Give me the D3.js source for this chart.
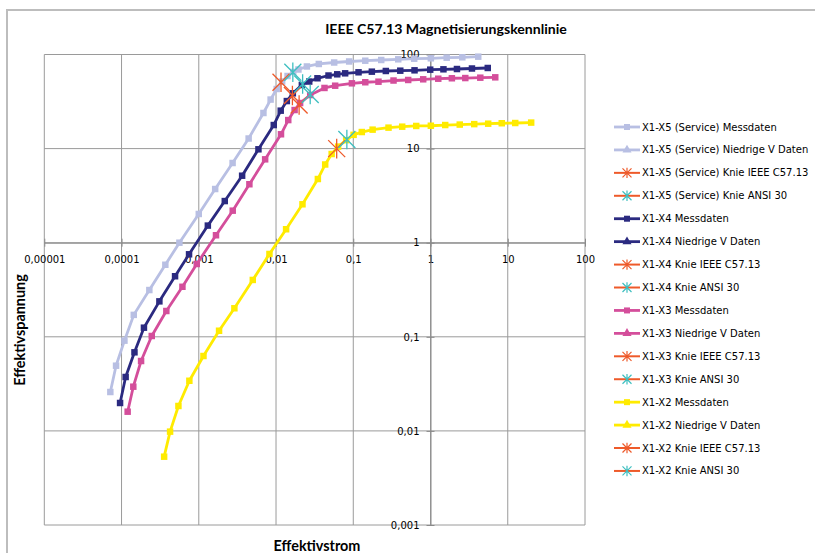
<!DOCTYPE html>
<html><head><meta charset="utf-8">
<script src="https://cdn.jsdelivr.net/npm/d3@7/dist/d3.min.js"></script>
<style>body{margin:0;background:#fff}svg{display:block}</style>
</head><body><div id="chart"></div>
<script>
// ---- Data (current [A], voltage [V]) ----
const x5Current = [7.16e-5,8.49e-5,1.09e-4,1.44e-4,2.29e-4,3.69e-4,5.61e-4,1.00e-3,1.63e-3,2.74e-3,4.42e-3,6.87e-3,8.51e-3,0.0102,0.0120,0.0141,0.0167,0.0195,0.0251,0.0358,0.0566,0.0885,0.143,0.230,0.382,0.615,1.01,1.62,2.58,4.15];
const x5Voltage = [0.0259,0.0493,0.0910,0.171,0.314,0.583,1.00,2.02,3.72,7.03,12.8,23.9,33.2,43.0,51.6,59.1,65.2,69.3,74.6,79.3,82.2,84.3,85.9,87.4,88.9,90.2,91.1,92.5,93.4,94.8];
const x4Current = [9.57e-5,1.13e-4,1.47e-4,1.95e-4,3.09e-4,4.93e-4,7.48e-4,1.31e-3,2.17e-3,3.64e-3,5.92e-3,9.35e-3,0.0115,0.0138,0.0165,0.0216,0.0269,0.0344,0.0478,0.0620,0.0785,0.117,0.174,0.264,0.406,0.621,0.991,1.47,2.20,3.44,5.51];
const x4Voltage = [0.0198,0.0374,0.0684,0.125,0.238,0.440,0.753,1.52,2.77,5.15,9.83,17.8,25.3,32.0,38.7,47.4,51.6,55.9,59.8,61.6,63.1,64.7,65.7,66.8,67.3,67.9,69.0,69.6,70.1,71.0,71.9];
const x3Current = [1.20e-4,1.42e-4,1.79e-4,2.46e-4,3.80e-4,6.14e-4,9.42e-4,1.67e-3,2.75e-3,4.52e-3,7.23e-3,0.0116,0.0144,0.0174,0.0205,0.0277,0.0424,0.0583,0.0960,0.143,0.212,0.332,0.514,0.804,1.26,1.89,2.82,4.41,6.89];
const x3Voltage = [0.0160,0.0295,0.0553,0.102,0.188,0.340,0.594,1.20,2.19,4.18,7.69,14.2,20.1,25.7,30.5,37.1,44.1,46.6,49.4,50.7,51.4,52.9,53.6,54.5,55.3,55.9,56.2,56.7,57.2];
const x2Current = [3.56e-4,4.25e-4,5.45e-4,7.55e-4,1.15e-3,1.83e-3,2.89e-3,5.00e-3,8.22e-3,0.0135,0.0220,0.0348,0.0433,0.0525,0.0637,0.0809,0.101,0.129,0.178,0.286,0.430,0.653,1.01,1.55,2.39,3.68,5.58,8.36,12.5,20.1];
const x2Voltage = [0.00532,0.00982,0.0184,0.0341,0.0625,0.116,0.201,0.402,0.759,1.39,2.56,4.75,6.78,8.76,10.5,12.3,14.0,15.0,15.9,16.7,17.1,17.4,17.5,17.8,18.0,18.2,18.4,18.6,18.7,18.9];
// Low-voltage series (no separate points visible in the chart)
const lowVCurrent = [];
const lowVVoltage = [];
// Knee points [current, voltage]
const kneeIEEE = { X5: [0.0116, 50.7], X4: [0.0163, 36.7], X3: [0.0199, 29.1], X2: [0.0610, 10.0] };
const kneeANSI = { X5: [0.0165, 64.7], X4: [0.0221, 48.6], X3: [0.0277, 37.6], X2: [0.0826, 12.5] };

const xTickValues = [1e-5,1e-4,1e-3,1e-2,1e-1,1,10,100];
const xTickLabels = ["0,00001","0,0001","0,001","0,01","0,1","1","10","100"];
const yTickValues = [1e-3,1e-2,1e-1,1,10,100];
const yTickLabels = ["0,001","0,01","0,1","1","10","100"];

const title = "IEEE C57.13 Magnetisierungskennlinie";
const xTitle = "Effektivstrom";
const yTitle = "Effektivspannung";

const colors = { X5: "#B8BFE3", X4: "#2B2A80", X3: "#D44E9B", X2: "#FFEB00", ieee: "#EE5A2A", ansi: "#3EBFC0", kneeLine: "#EE5A2A" };

const zip = (a, b) => a.map((v, i) => [v, b[i]]);

const series = [
  { name: "X1-X5 (Service) Messdaten", type: "line", marker: "square", color: colors.X5, data: zip(x5Current, x5Voltage) },
  { name: "X1-X5 (Service) Niedrige V Daten", type: "line", marker: "triangle", color: colors.X5, data: zip(lowVCurrent, lowVVoltage) },
  { name: "X1-X5 (Service) Knie IEEE C57.13", type: "knee", color: colors.ieee, data: [kneeIEEE.X5] },
  { name: "X1-X5 (Service) Knie ANSI 30", type: "knee", color: colors.ansi, data: [kneeANSI.X5] },
  { name: "X1-X4 Messdaten", type: "line", marker: "square", color: colors.X4, data: zip(x4Current, x4Voltage) },
  { name: "X1-X4 Niedrige V Daten", type: "line", marker: "triangle", color: colors.X4, data: zip(lowVCurrent, lowVVoltage) },
  { name: "X1-X4 Knie IEEE C57.13", type: "knee", color: colors.ieee, data: [kneeIEEE.X4] },
  { name: "X1-X4 Knie ANSI 30", type: "knee", color: colors.ansi, data: [kneeANSI.X4] },
  { name: "X1-X3 Messdaten", type: "line", marker: "square", color: colors.X3, data: zip(x3Current, x3Voltage) },
  { name: "X1-X3 Niedrige V Daten", type: "line", marker: "triangle", color: colors.X3, data: zip(lowVCurrent, lowVVoltage) },
  { name: "X1-X3 Knie IEEE C57.13", type: "knee", color: colors.ieee, data: [kneeIEEE.X3] },
  { name: "X1-X3 Knie ANSI 30", type: "knee", color: colors.ansi, data: [kneeANSI.X3] },
  { name: "X1-X2 Messdaten", type: "line", marker: "square", color: colors.X2, data: zip(x2Current, x2Voltage) },
  { name: "X1-X2 Niedrige V Daten", type: "line", marker: "triangle", color: colors.X2, data: zip(lowVCurrent, lowVVoltage) },
  { name: "X1-X2 Knie IEEE C57.13", type: "knee", color: colors.ieee, data: [kneeIEEE.X2] },
  { name: "X1-X2 Knie ANSI 30", type: "knee", color: colors.ansi, data: [kneeANSI.X2] }
];

const W = 815, H = 553;
const plot = { left: 44.3, right: 585, top: 54.5, bottom: 525 };
const svg = d3.select("#chart").append("svg").attr("width", W).attr("height", H);

// outer chart frame
svg.append("rect").attr("x", 7).attr("y", 10).attr("width", 900).attr("height", 700)
  .attr("fill", "none").attr("stroke", "#BDBDBD").attr("stroke-width", 2);

const x = d3.scaleLog().domain([1e-5, 100]).range([plot.left, plot.right]);
const y = d3.scaleLog().domain([1e-3, 100]).range([plot.bottom, plot.top]);

// gridlines
const grid = svg.append("g");
grid.selectAll("line.v").data(xTickValues).join("line")
  .attr("x1", d => x(d)).attr("x2", d => x(d)).attr("y1", plot.top).attr("y2", plot.bottom)
  .attr("stroke", "#9A9A9A").attr("stroke-width", 1);
grid.selectAll("line.h").data(yTickValues).join("line")
  .attr("y1", d => y(d)).attr("y2", d => y(d)).attr("x1", plot.left).attr("x2", plot.right)
  .attr("stroke", "#9A9A9A").attr("stroke-width", 1);

// axes crossing at 1
const tickFont = "DejaVu Sans, sans-serif";
const xAxis = d3.axisBottom(x).tickValues(xTickValues).tickFormat((d, i) => xTickLabels[i]).tickSizeInner(4).tickSizeOuter(0);
const gx = svg.append("g").attr("transform", `translate(0,${y(1)})`).call(xAxis);
gx.select(".domain").attr("stroke", "#8A8A8A");
gx.selectAll(".tick line").attr("stroke", "#8A8A8A").attr("y1", -4);
gx.selectAll(".tick text").attr("font-family", tickFont).attr("font-size", 10).attr("fill", "#000").attr("dy", "1.3em");

const yAxis = d3.axisLeft(y).tickValues(yTickValues).tickFormat((d, i) => yTickLabels[i]).tickSizeInner(4).tickSizeOuter(0);
const gy = svg.append("g").attr("transform", `translate(${x(1)},0)`).call(yAxis);
gy.select(".domain").attr("stroke", "#8A8A8A");
gy.selectAll(".tick line").attr("stroke", "#8A8A8A").attr("x1", 4);
gy.selectAll(".tick text").attr("font-family", tickFont).attr("font-size", 10).attr("fill", "#000").attr("x", -11);

// series
const starPath = s => `M${-s},${-s}L${s},${s}M${-s},${s}L${s},${-s}M0,${-s * 1.15}L0,${s * 1.15}`;
const line = d3.line().x(d => x(d[0])).y(d => y(d[1]));
const gS = svg.append("g");
series.forEach(s => {
  if (s.type === "line") {
    if (s.data.length) {
      gS.append("path").datum(s.data).attr("d", line).attr("fill", "none")
        .attr("stroke", s.color).attr("stroke-width", 2.8).attr("stroke-linejoin", "round");
      const sym = s.marker === "square" ? d3.symbolSquare : d3.symbolTriangle;
      gS.append("g").selectAll("path").data(s.data).join("path")
        .attr("transform", d => `translate(${x(d[0])},${y(d[1])})`)
        .attr("d", d3.symbol().type(sym).size(42)).attr("fill", s.color);
    }
  } else {
    gS.append("g").selectAll("path").data(s.data).join("path")
      .attr("transform", d => `translate(${x(d[0])},${y(d[1])})`)
      .attr("d", starPath(8.5)).attr("fill", "none").attr("stroke", s.color).attr("stroke-width", 1.3);
  }
});

// titles
const labelFont = "Lato, 'Open Sans', sans-serif";
svg.append("text").attr("x", 446).attr("y", 33.5).attr("text-anchor", "middle")
  .attr("font-family", labelFont).attr("font-weight", "bold").attr("font-size", 14.1).text(title);
svg.append("text").attr("x", 317).attr("y", 551).attr("text-anchor", "middle")
  .attr("font-family", labelFont).attr("font-weight", "bold").attr("font-size", 14.4).text(xTitle);
svg.append("text").attr("transform", "translate(25,330) rotate(-90)").attr("text-anchor", "middle")
  .attr("font-family", labelFont).attr("font-weight", "bold").attr("font-size", 14.4).text(yTitle);

// legend
const lg = svg.append("g");
const ly0 = 127, lstep = 22.93;
series.forEach((s, i) => {
  const yy = ly0 + i * lstep;
  const g = lg.append("g").attr("transform", `translate(0,${yy})`);
  const lc = s.type === "knee" ? colors.kneeLine : s.color;
  g.append("line").attr("x1", 614).attr("x2", 640).attr("y1", 0).attr("y2", 0)
    .attr("stroke", lc).attr("stroke-width", s.type === "knee" ? 2 : 2.8);
  if (s.type === "knee") {
    g.append("path").attr("transform", "translate(627,0)").attr("d", starPath(4.5))
      .attr("fill", "none").attr("stroke", s.color).attr("stroke-width", 1.2);
  } else {
    const sym = s.marker === "square" ? d3.symbolSquare : d3.symbolTriangle;
    g.append("path").attr("transform", "translate(627,0)").attr("d", d3.symbol().type(sym).size(36)).attr("fill", s.color);
  }
  g.append("text").attr("x", 642).attr("y", 0).attr("dy", "0.35em")
    .attr("font-family", tickFont).attr("font-size", 10).attr("fill", "#000").text(s.name);
});
</script>
</body></html>
